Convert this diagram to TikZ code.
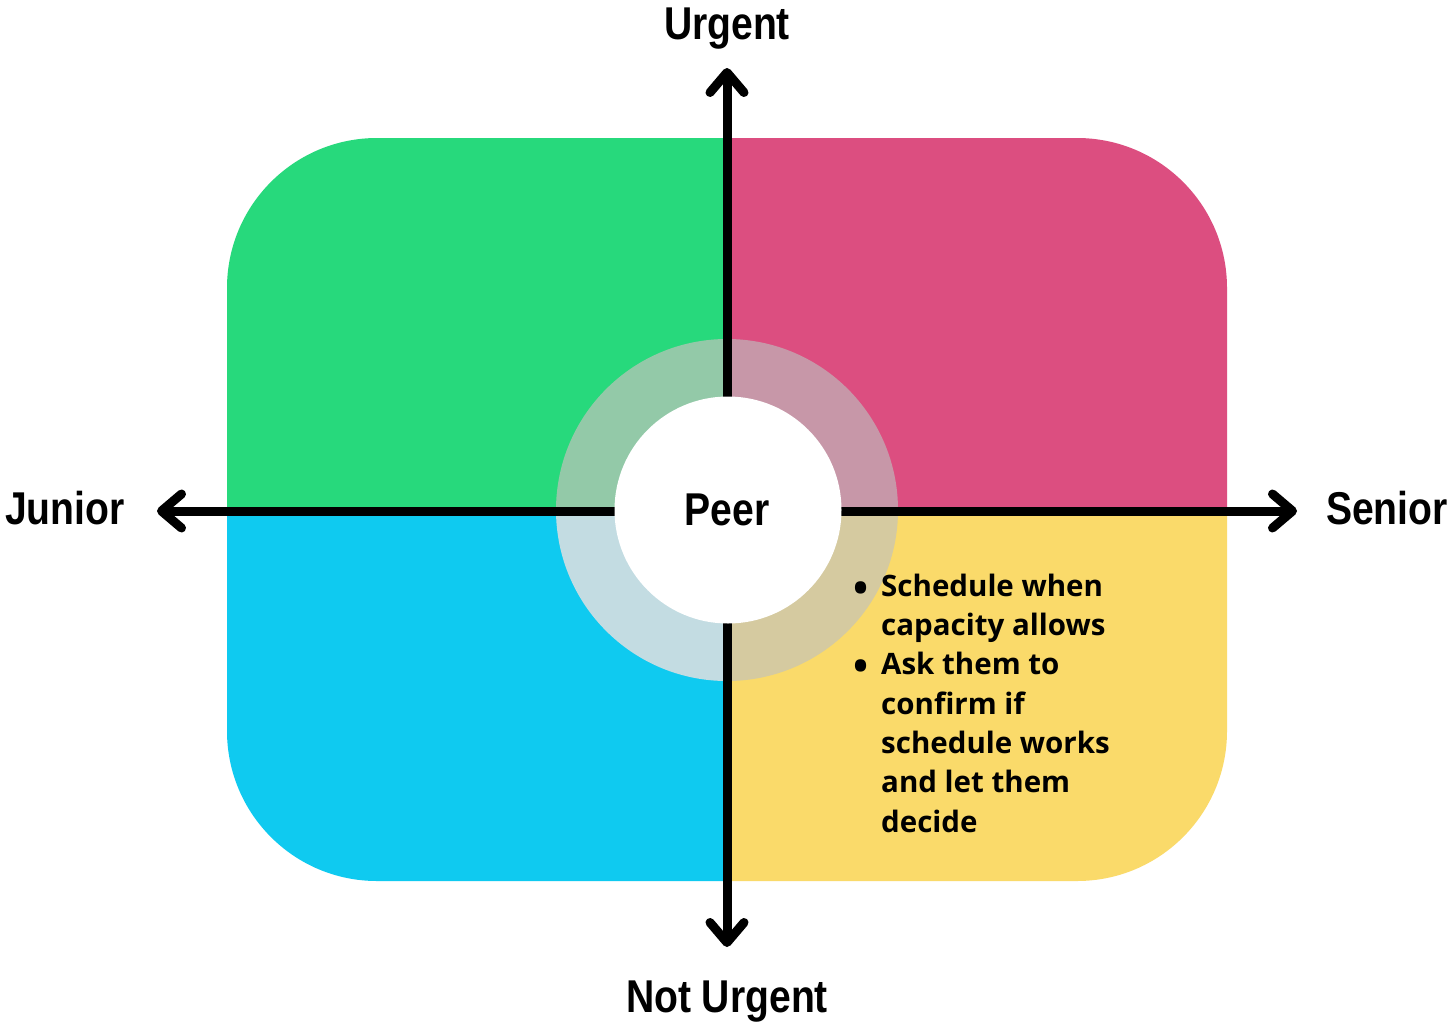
\documentclass[tikz,border=0pt]{standalone}
\usepackage{fontspec}
\setmainfont{Open Sans}
\newfontfamily\labelfont[FakeStretch=0.85]{Liberation Sans}
\usetikzlibrary{arrows.meta}
\definecolor{qgreen}{HTML}{27D97C}
\definecolor{qpink}{HTML}{DC4E80}
\definecolor{qblue}{HTML}{0FCAF0}
\definecolor{qyellow}{HTML}{FADA6A}
\definecolor{rgreen}{HTML}{93C9A8}
\definecolor{rpink}{HTML}{C797A8}
\definecolor{rblue}{HTML}{C3DCE2}
\definecolor{ryellow}{HTML}{D5CAA0}
\newcommand{\bulletmark}{\llap{\raisebox{-6pt}{\fontsize{40}{40}\selectfont •}\hspace{13pt}}}
\tikzset{
  axislabel/.style={font=\labelfont\bfseries\fontsize{46}{54}\selectfont, inner sep=0pt},
  axisline/.style={line width=9pt, {Straight Barb[length=20pt,width=34pt,round]}-{Straight Barb[length=20pt,width=34pt,round]}},
  bullettext/.style={font=\bfseries\fontsize{29.5}{39.3}\selectfont, inner sep=0pt, align=left}
}
\begin{document}
\begin{tikzpicture}[x=1pt,y=-1pt]
\useasboundingbox (0,0) rectangle (1456,1023);
\fill[white] (0,0) rectangle (1456,1023);
% quadrants
\begin{scope}
  \clip[rounded corners=150pt] (227,138) rectangle (1227,881);
  \fill[qgreen] (220,130) rectangle (727,510);
  \fill[qpink] (727,130) rectangle (1235,510);
  \fill[qblue] (220,510) rectangle (727,890);
  \fill[qyellow] (727,510) rectangle (1235,890);
\end{scope}
% ring
\begin{scope}\clip (550,330) rectangle (727,510); \fill[rgreen] (727,510) circle[radius=171pt]; \end{scope}
\begin{scope}\clip (727,330) rectangle (905,510); \fill[rpink] (727,510) circle[radius=171pt]; \end{scope}
\begin{scope}\clip (550,510) rectangle (727,690); \fill[rblue] (727,510) circle[radius=171pt]; \end{scope}
\begin{scope}\clip (727,510) rectangle (905,690); \fill[ryellow] (727,510) circle[radius=171pt]; \end{scope}
% axes
\coordinate (top) at (727,68);
\coordinate (bottom) at (727,947);
\coordinate (left) at (157,511);
\coordinate (right) at (1297,511);
\draw[axisline] (top) -- (bottom);
\draw[axisline] (left) -- (right);
% center
\node[circle, fill=white, minimum size=227pt, inner sep=0pt] (center) at (728,510) {};
\node[axislabel, anchor=base] (peer) at (727,525) {Peer};
% labels
\node[axislabel, anchor=base] (urgent) at (727,39) {Urgent};
\node[axislabel, anchor=base] (noturgent) at (727,1012) {Not Urgent};
\node[axislabel, anchor=base west] (junior) at (5,524) {Junior};
\node[axislabel, anchor=base east] (senior) at (1448,524) {Senior};
% bullets
\node[bullettext, anchor=base west] (list) at (881,832) {%
\bulletmark Schedule when\\
capacity allows\\
\bulletmark Ask them to\\
confirm if\\
schedule works\\
and let them\\
decide};
\end{tikzpicture}
\end{document}
